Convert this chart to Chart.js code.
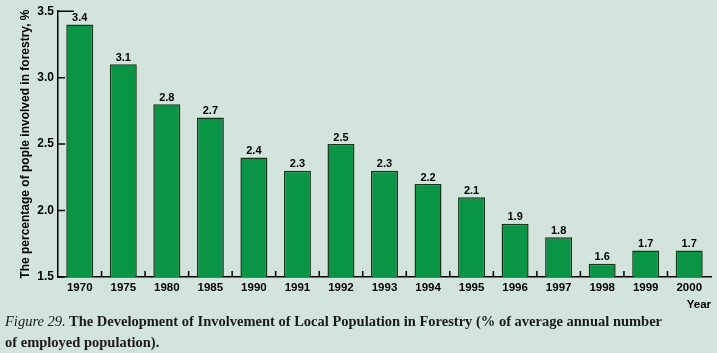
<!DOCTYPE html>
<html>
<head>
<meta charset="utf-8">
<script src="https://cdn.jsdelivr.net/npm/chart.js@4"></script>
<style>
  body { margin: 0; background: #d3e4dc; width: 717px; height: 353px; overflow: hidden; }
  #wrap { position: relative; width: 717px; height: 353px; }
  canvas { position: absolute; left: 0; top: 0; }
  .caption {
    position: absolute; left: 5px; top: 311px;
    font-family: "Liberation Serif", serif; font-size: 14.5px; line-height: 21px;
    color: #1a1a1a; font-weight: bold; white-space: nowrap;
  }
  .caption i { font-weight: normal; }
</style>
</head>
<body>
<div id="wrap">
  <canvas id="forestryChart" width="717" height="312"></canvas>
  <div class="caption"><i>Figure 29.</i> The Development of Involvement of Local Population in Forestry (% of average annual number<br>of employed population).</div>
</div>
<script>
// Данные с рисунка
const years = ['1970', '1975', '1980', '1985', '1990', '1991', '1992', '1993', '1994', '1995', '1996', '1997', '1998', '1999', '2000'];
const shares = [3.4, 3.1, 2.8, 2.7, 2.4, 2.3, 2.5, 2.3, 2.2, 2.1, 1.9, 1.8, 1.6, 1.7, 1.7];
const yMin = 1.5;
const yMax = 3.5;
const yStep = 0.5;

const labelFont = '"Liberation Sans", Arial, sans-serif';

// Подписи значений над столбиками
const valueLabels = {
    id: 'valueLabels',
    afterDatasetsDraw(chart) {
        const ctx = chart.ctx;
        const meta = chart.getDatasetMeta(0);
        ctx.save();
        ctx.font = 'bold 11px ' + labelFont;
        ctx.fillStyle = '#000';
        ctx.textAlign = 'center';
        ctx.textBaseline = 'bottom';
        meta.data.forEach((bar, i) => {
            ctx.fillText(shares[i].toFixed(1), bar.x, bar.y - 1);
        });
        ctx.restore();
    }
};

// Короткие засечки внутрь области графика
const innerTicks = {
    id: 'innerTicks',
    afterDraw(chart) {
        const ctx = chart.ctx;
        const x = chart.scales.x;
        const y = chart.scales.y;
        const area = chart.chartArea;
        ctx.save();
        ctx.strokeStyle = '#000';
        ctx.lineWidth = 1.5;
        ctx.beginPath();
        y.ticks.forEach((t, i) => {
            const py = y.getPixelForValue(t.value);
            const len = (i === y.ticks.length - 1) ? 16 : 7;
            ctx.moveTo(area.left, py);
            ctx.lineTo(area.left + len, py);
        });
        for (let i = 0; i < years.length - 1; i++) {
            const px = (x.getPixelForValue(i) + x.getPixelForValue(i + 1)) / 2;
            ctx.moveTo(px, area.bottom);
            ctx.lineTo(px, area.bottom - 6);
        }
        ctx.stroke();
        ctx.restore();
    }
};

const chart = new Chart(document.getElementById('forestryChart').getContext('2d'), {
    type: 'bar',
    data: {
        labels: years,
        datasets: [{
            data: shares,
            backgroundColor: '#0a9446',
            borderColor: '#17351c',
            borderWidth: 1.5,
            borderSkipped: false,
            categoryPercentage: 1,
            barPercentage: 0.62
        }]
    },
    options: {
        responsive: false,
        animation: false,
        devicePixelRatio: 1,
        layout: { padding: { left: 18, top: 10, right: 6, bottom: 0 } },
        plugins: {
            legend: { display: false },
            tooltip: { enabled: false }
        },
        scales: {
            x: {
                grid: { display: false, drawTicks: false },
                border: { display: true, color: '#000', width: 1.5 },
                ticks: {
                    color: '#000',
                    padding: 4,
                    maxRotation: 0,
                    autoSkip: false,
                    font: { family: labelFont, size: 11.5, weight: 'bold' }
                },
                title: {
                    display: true,
                    text: 'Year',
                    align: 'end',
                    color: '#000',
                    padding: 0,
                    font: { family: labelFont, size: 11.5, weight: 'bold' }
                },
                afterFit(scale) { scale.height = 35; }
            },
            y: {
                min: yMin,
                max: yMax,
                grid: { display: false, drawTicks: false },
                border: { display: true, color: '#000', width: 1.5 },
                ticks: {
                    stepSize: yStep,
                    color: '#000',
                    padding: 4,
                    font: { family: labelFont, size: 12, weight: 'bold' },
                    callback: v => v.toFixed(1)
                },
                title: {
                    display: true,
                    text: 'The percentage of pople involved in forestry, %',
                    color: '#000',
                    padding: { top: 0, bottom: 4 },
                    font: { family: labelFont, size: 12, weight: 'bold' }
                },
                afterFit(scale) { scale.width = 40; }
            }
        }
    },
    plugins: [valueLabels, innerTicks]
});
</script>
</body>
</html>
